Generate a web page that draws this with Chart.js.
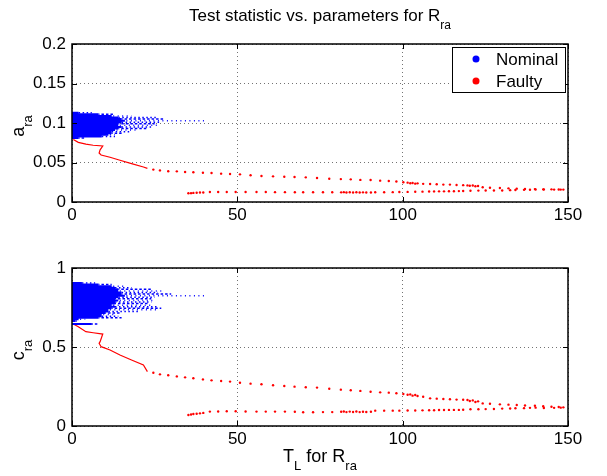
<!DOCTYPE html>
<html>
<head>
<meta charset="utf-8">
<script src="https://cdn.jsdelivr.net/npm/chart.js@4"></script>
<style>
  body { margin: 0; background: #fff; }
  .wrap { position: relative; width: 607px; height: 476px; }
  canvas { position: absolute; left: 0; }
</style>
</head>
<body>
<div class="wrap">
  <canvas id="topChart" width="607" height="238" style="top:0"></canvas>
  <canvas id="bottomChart" width="607" height="238" style="top:238px"></canvas>
</div>
<script>
// tick values
const xTicks = [0, 50, 100, 150];
const aTicks = [0, 0.05, 0.1, 0.15, 0.2];
const cTicks = [0, 0.5, 1];

// nominal cloud, read row by row: level, end of dense part, end of dotted tail
const nomAY = [0.113, 0.111, 0.109, 0.107, 0.105, 0.103, 0.101, 0.099, 0.097, 0.095, 0.093, 0.091, 0.089, 0.087, 0.085, 0.083, 0.081];
const nomASolid = [2, 8, 12, 14, 15, 16, 15, 14, 14, 15, 14, 13, 12, 12, 11, 9, 2];
const nomAEnd = [6, 13, 18, 26, 28, 40, 27, 25, 26, 24, 23, 20, 18, 15, 13, 13, 4];

const nomCY = [0.905, 0.895, 0.885, 0.875, 0.865, 0.855, 0.845, 0.835, 0.825, 0.815, 0.805, 0.795, 0.785, 0.775, 0.765, 0.755, 0.745, 0.735, 0.725, 0.715, 0.705, 0.695, 0.685, 0.675, 0.665, 0.645];
const nomCSolid = [3, 8, 12, 13, 14, 14, 15, 15, 16, 14, 13, 14, 13, 13, 12, 13, 12, 11, 11, 10, 9, 9, 8, 2, 1, 6];
const nomCEnd = [7, 12, 16, 18, 24, 27, 26, 30, 40, 25, 24, 25, 24, 23, 24, 26, 27, 26, 20, 15, 13, 14, 15, 4, 2, 8];

// faulty: dense start of the curve
const headT = [0.4, 1.9, 4.2, 6.4, 9.3, 8.5, 8.2, 8.8, 11.5, 14.5, 18, 21.6, 22.8];
const headA = [0.079, 0.0755, 0.0732, 0.0718, 0.0709, 0.066, 0.062, 0.0595, 0.0566, 0.0528, 0.0485, 0.0443, 0.0426];
const headC = [0.645, 0.628, 0.597, 0.59, 0.582, 0.534, 0.523, 0.502, 0.481, 0.449, 0.418, 0.386, 0.344];

// faulty: upper branch
const upperT = [24.6, 26.6, 29.1, 31.7, 34.2, 36.7, 39.6, 42.2, 45.1, 47.8, 50.8, 54, 57.3, 60.8, 64.2, 67.3, 70.7, 74.1, 77.8, 81.3, 84.3, 87.2, 90.3, 93.2, 95.8, 98.1, 100.2, 101.5, 102.3, 103, 103.8, 104.5, 106.2, 108.3, 110.3, 112.3, 114.3, 116.3, 118.3, 119.6, 120.3, 121.2, 122, 122.8, 124.2, 126.4, 129.4, 132, 134.5, 137, 140, 142.5, 145, 147.2, 148.6];
const upperA = [0.041, 0.040, 0.039, 0.0388, 0.038, 0.0376, 0.037, 0.0367, 0.0359, 0.0354, 0.035, 0.0338, 0.033, 0.0325, 0.032, 0.0316, 0.0312, 0.0304, 0.0295, 0.029, 0.0287, 0.028, 0.0278, 0.027, 0.0266, 0.026, 0.025, 0.0245, 0.0238, 0.024, 0.0232, 0.0236, 0.023, 0.0228, 0.0224, 0.022, 0.022, 0.0215, 0.0213, 0.021, 0.0205, 0.0208, 0.02, 0.0203, 0.0186, 0.018, 0.0177, 0.0173, 0.0169, 0.0165, 0.0163, 0.016, 0.016, 0.0158, 0.0157];
const upperC = [0.337, 0.327, 0.321, 0.314, 0.308, 0.302, 0.295, 0.289, 0.285, 0.281, 0.274, 0.268, 0.264, 0.258, 0.253, 0.249, 0.245, 0.243, 0.236, 0.23, 0.226, 0.222, 0.217, 0.213, 0.211, 0.207, 0.203, 0.198, 0.2, 0.192, 0.196, 0.19, 0.185, 0.175, 0.173, 0.171, 0.169, 0.167, 0.166, 0.165, 0.158, 0.162, 0.152, 0.156, 0.143, 0.141, 0.137, 0.135, 0.133, 0.13, 0.128, 0.125, 0.122, 0.12, 0.118];

// faulty: lower branch
const lowerT = [35.2, 36, 36.7, 37.7, 38.7, 39.7, 41.7, 44.2, 46.8, 49.5, 52.5, 55.8, 58.6, 61.4, 64.4, 67.4, 69.9, 72.9, 75.9, 78.7, 81.4, 82.2, 83, 84, 85, 86, 87, 88, 89, 90.4, 91.7, 94.4, 97, 99, 101.5, 103.8, 106, 108, 109.5, 111, 112.5, 114, 115.5, 117, 118.3, 120.5, 122.9, 125.1, 127.6, 130.1, 132.5, 134.1, 136.7, 138.5, 140.2, 142.7, 145.8, 147.8];
const lowerA = [0.011, 0.0112, 0.0115, 0.0118, 0.012, 0.012, 0.0127, 0.0127, 0.0127, 0.0127, 0.0127, 0.0126, 0.0126, 0.0125, 0.0125, 0.0124, 0.0123, 0.0123, 0.0123, 0.0123, 0.0122, 0.0125, 0.012, 0.0124, 0.0121, 0.0123, 0.012, 0.0122, 0.012, 0.0121, 0.0124, 0.0124, 0.0125, 0.0126, 0.0128, 0.013, 0.0131, 0.0133, 0.0134, 0.0135, 0.0135, 0.0136, 0.0137, 0.0138, 0.0139, 0.0143, 0.0144, 0.0145, 0.0146, 0.0146, 0.015, 0.0152, 0.0154, 0.0156, 0.0159, 0.0158, 0.0157, 0.0157];
const lowerC = [0.07, 0.073, 0.076, 0.078, 0.08, 0.083, 0.091, 0.092, 0.093, 0.093, 0.092, 0.091, 0.091, 0.091, 0.091, 0.09, 0.087, 0.087, 0.088, 0.088, 0.09, 0.092, 0.088, 0.091, 0.089, 0.092, 0.088, 0.09, 0.089, 0.09, 0.097, 0.097, 0.097, 0.097, 0.098, 0.098, 0.099, 0.1, 0.1, 0.101, 0.101, 0.102, 0.102, 0.102, 0.103, 0.106, 0.106, 0.107, 0.108, 0.11, 0.111, 0.112, 0.113, 0.115, 0.116, 0.114, 0.115, 0.116];

const legendLabels = ["Nominal", "Faulty"];

const BLUE = "#0000ff";
const RED = "#ff0000";
const FONT = '"Liberation Sans", Arial, Helvetica, sans-serif';

Chart.defaults.font.family = FONT;
Chart.defaults.font.size = 17;
Chart.defaults.color = "#000";

// text with subscripts, centered on (cx, cy)
function drawRich(ctx, parts, cx, cy, size, rot) {
  const subSize = Math.round(size * 0.72);
  ctx.save();
  ctx.translate(cx, cy);
  if (rot) ctx.rotate(rot);
  let total = 0;
  const widths = parts.map(([t, sub]) => {
    ctx.font = (sub ? subSize : size) + "px " + FONT;
    const w = ctx.measureText(t).width;
    total += w;
    return w;
  });
  let x = -total / 2;
  ctx.fillStyle = "#000";
  ctx.textAlign = "left";
  ctx.textBaseline = "alphabetic";
  parts.forEach(([t, sub], i) => {
    ctx.font = (sub ? subSize : size) + "px " + FONT;
    ctx.fillText(t, x, size * 0.35 + (sub ? size * 0.45 : 0));
    x += widths[i];
  });
  ctx.restore();
}

// MATLAB-like frame: box, inward ticks, labels, legend
const frame = {
  id: "frame",
  afterDraw(chart, args, o) {
    const { ctx, chartArea: a, scales } = chart;
    const x = scales.x, y = scales.y;
    ctx.save();
    ctx.strokeStyle = "#000";
    ctx.lineWidth = 1;
    ctx.beginPath();
    x.ticks.forEach((t) => {
      const p = Math.round(x.getPixelForValue(t.value)) + 0.5;
      ctx.moveTo(p, a.bottom); ctx.lineTo(p, a.bottom - 5);
      ctx.moveTo(p, a.top); ctx.lineTo(p, a.top + 5);
    });
    y.ticks.forEach((t) => {
      const p = Math.round(y.getPixelForValue(t.value)) + 0.5;
      ctx.moveTo(a.left, p); ctx.lineTo(a.left + 5, p);
      ctx.moveTo(a.right, p); ctx.lineTo(a.right - 5, p);
    });
    ctx.stroke();
    ctx.lineWidth = 1.5;
    ctx.strokeRect(a.left, a.top, a.right - a.left, a.bottom - a.top);

    if (o.title) drawRich(ctx, o.title, (a.left + a.right) / 2, o.titleY, 17);
    if (o.xlabel) drawRich(ctx, o.xlabel, (a.left + a.right) / 2, o.xlabelY, 18);
    if (o.ylabel) drawRich(ctx, o.ylabel, 18, (a.top + a.bottom) / 2 + 3, 18, -Math.PI / 2);

    if (o.legend) {
      const colors = [BLUE, RED];
      ctx.fillStyle = "#fff";
      ctx.fillRect(452, 47, 113, 45);
      ctx.lineWidth = 1;
      ctx.strokeRect(452.5, 47.5, 113, 45);
      ctx.font = "17px " + FONT;
      ctx.textBaseline = "middle";
      ctx.textAlign = "left";
      legendLabels.forEach((lab, i) => {
        const yy = 59 + i * 22;
        ctx.fillStyle = colors[i];
        ctx.beginPath();
        ctx.arc(476, yy, 3.5, 0, Math.PI * 2);
        ctx.fill();
        ctx.fillStyle = "#000";
        ctx.fillText(lab, 496, yy + 1);
      });
    }
    ctx.restore();
  },
};

// horizontal runs separated by null breaks; keep = which rows to take
function rows(levels, ends, starts, keep) {
  const pts = [];
  levels.forEach((v, i) => {
    if (keep && !keep(i)) return;
    const s = starts ? starts[i] : 0;
    pts.push({ x: s, y: v }, { x: ends[i], y: v }, { x: ends[i], y: null });
  });
  return pts;
}

function pairs(xs, ys) {
  return xs.map((x, i) => ({ x: x, y: ys[i] }));
}

const gridStyle = { color: "rgba(0,0,0,0.55)", lineWidth: 1, drawTicks: false };
const borderStyle = { display: false, dash: [1, 3] };

function buildChart(id, p) {
  return new Chart(document.getElementById(id), {
    type: "scatter",
    data: {
      datasets: [
        { data: rows(p.rowY, p.rowSolid), showLine: true, borderColor: BLUE, borderWidth: 2, pointRadius: 0 },
        { data: rows(p.rowY, p.rowEnd, p.rowSolid, (i) => i % 3 === 0), showLine: true, borderColor: BLUE, borderWidth: 1.5, borderDash: [1.5, 2.5], pointRadius: 0 },
        { data: rows(p.rowY, p.rowEnd, p.rowSolid, (i) => i % 3 === 1), showLine: true, borderColor: BLUE, borderWidth: 1.5, borderDash: [2.5, 2], borderDashOffset: 1.5, pointRadius: 0 },
        { data: rows(p.rowY, p.rowEnd, p.rowSolid, (i) => i % 3 === 2), showLine: true, borderColor: BLUE, borderWidth: 1.5, borderDash: [1, 3.5], borderDashOffset: 3, pointRadius: 0 },
        { data: pairs(headT, p.head), showLine: true, borderColor: RED, borderWidth: 1.2, pointRadius: 0 },
        { data: pairs(upperT, p.upper), pointRadius: 1.2, pointBackgroundColor: RED, pointBorderWidth: 0 },
        { data: pairs(lowerT, p.lower), pointRadius: 1.2, pointBackgroundColor: RED, pointBorderWidth: 0 },
      ],
    },
    options: {
      responsive: false,
      animation: false,
      events: [],
      layout: { padding: { left: 0, right: 39, top: p.top, bottom: 0 } },
      scales: {
        x: {
          type: "linear",
          min: 0,
          max: 150,
          afterBuildTicks: (s) => { s.ticks = xTicks.map((v) => ({ value: v })); },
          afterFit: (s) => { s.height = p.xh; },
          ticks: { padding: 3, maxRotation: 0, callback: (v) => String(v) },
          grid: gridStyle,
          border: borderStyle,
        },
        y: {
          type: "linear",
          min: p.yTicks[0],
          max: p.yTicks[p.yTicks.length - 1],
          afterBuildTicks: (s) => { s.ticks = p.yTicks.map((v) => ({ value: v })); },
          afterFit: (s) => { s.width = 72; },
          ticks: { padding: 6, callback: (v) => String(v) },
          grid: gridStyle,
          border: borderStyle,
        },
      },
      plugins: {
        legend: { display: false },
        tooltip: { enabled: false },
        frame: p.frame,
      },
    },
    plugins: [frame],
  });
}

buildChart("topChart", {
  rowY: nomAY, rowSolid: nomASolid, rowEnd: nomAEnd,
  head: headA, upper: upperA, lower: lowerA,
  yTicks: aTicks, top: 44, xh: 36,
  frame: {
    title: [["Test statistic vs. parameters for R", false], ["ra", true]],
    titleY: 15,
    ylabel: [["a", false], ["ra", true]],
    legend: true,
  },
});

buildChart("bottomChart", {
  rowY: nomCY, rowSolid: nomCSolid, rowEnd: nomCEnd,
  head: headC, upper: upperC, lower: lowerC,
  yTicks: cTicks, top: 30, xh: 50,
  frame: {
    xlabel: [["T", false], ["L", true], [" for R", false], ["ra", true]],
    xlabelY: 218,
    ylabel: [["c", false], ["ra", true]],
  },
});
</script>
</body>
</html>
